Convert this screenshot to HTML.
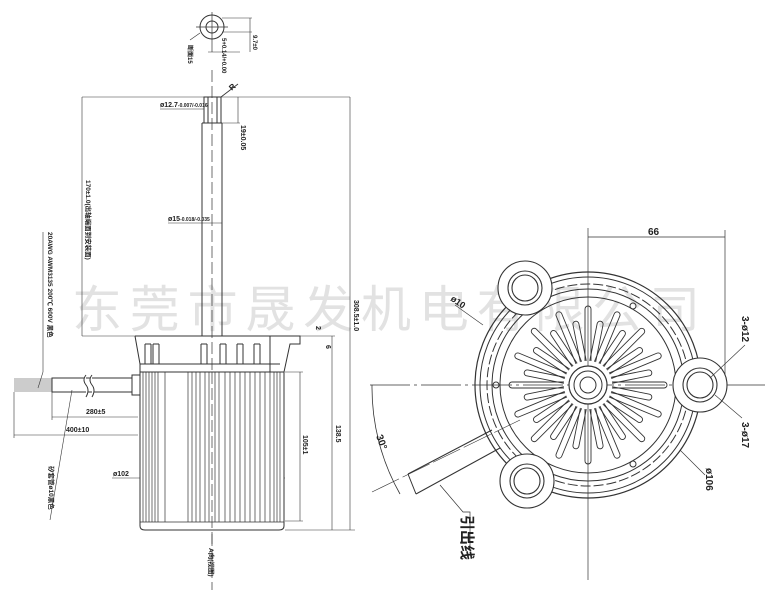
<!DOCTYPE html>
<html><head><meta charset="utf-8"><style>
html,body{margin:0;padding:0;background:#fff;width:777px;height:596px;overflow:hidden}
svg{display:block}
text{font-family:"Liberation Sans","Noto Sans CJK SC",sans-serif;fill:#222}
</style></head><body>
<svg id="s" width="777" height="596" viewBox="0 0 777 596" stroke="#333" fill="none" stroke-width="1">
<!-- watermark -->
<text x="72" y="327" font-size="50" stroke="none" style="fill:#e2e2e2" textLength="628">东莞市晟发机电有限公司</text>
<!-- top small circle detail -->
<circle cx="212" cy="27" r="12"/><circle cx="212" cy="27" r="6"/>
<line x1="196" y1="27" x2="228" y2="27" stroke-width="0.7"/>
<line x1="212" y1="12" x2="212" y2="52" stroke-width="0.7"/>
<line x1="222" y1="18" x2="252" y2="18" stroke-width="0.6"/><line x1="222" y1="32" x2="252" y2="32" stroke-width="0.6"/>
<line x1="250" y1="18" x2="250" y2="52" stroke-width="0.6"/>
<line x1="208" y1="52" x2="240" y2="52" stroke-width="0.6"/>
<line x1="200" y1="33" x2="190" y2="40" stroke-width="0.6"/>
<g stroke="none" font-size="6" font-weight="bold">
<text transform="translate(188,45) rotate(90)">断面15</text>
<text transform="translate(222,38) rotate(90)">5+0.14/+0.00</text>
<text transform="translate(253,35) rotate(90)">9.7±0</text>
</g>
<!-- centerline left -->
<line x1="212" y1="70" x2="212" y2="590" stroke-dasharray="12,4" stroke-width="0.7"/>
<!-- shaft -->
<rect x="204" y="97" width="17" height="26"/>
<line x1="208" y1="97" x2="208" y2="123"/><line x1="217" y1="97" x2="217" y2="123"/>
<line x1="202" y1="123" x2="202" y2="336"/><line x1="222" y1="123" x2="222" y2="336"/>
<line x1="202" y1="123" x2="222" y2="123"/>
<line x1="168" y1="223" x2="222" y2="223" stroke-width="0.6"/>
<line x1="160" y1="109" x2="204" y2="109" stroke-width="0.6"/>
<line x1="221" y1="97" x2="238" y2="84" stroke-width="0.8"/>
<text x="230" y="90" font-size="8" stroke="none" font-weight="bold" transform="rotate(-40 232 88)">R</text>
<!-- dims -->
<line x1="82" y1="97" x2="350" y2="97" stroke-width="0.6"/>
<line x1="82" y1="97" x2="82" y2="336" stroke-width="0.6"/>
<line x1="82" y1="336" x2="135" y2="336" stroke-width="0.6"/>
<line x1="350" y1="97" x2="350" y2="530" stroke-width="0.6"/>
<line x1="238" y1="97" x2="238" y2="123" stroke-width="0.6"/>
<line x1="222" y1="123" x2="240" y2="123" stroke-width="0.6"/>
<g stroke="none" font-size="7" font-weight="bold">
<text x="160" y="107">ø12.7<tspan font-size="5">-0.007/-0.016</tspan></text>
<text x="168" y="221">ø15<tspan font-size="5">-0.018/-0.035</tspan></text>
<text transform="translate(241,125) rotate(90)">19±0.05</text>
<text transform="translate(86,180) rotate(90)" font-size="6.5">170±1.0(出轴端面到安装面)</text>
<text transform="translate(354,300) rotate(90)">308.5±1.0</text>
<text transform="translate(336,425) rotate(90)">138.5</text>
<text transform="translate(303,435) rotate(90)">105±1</text>
<text x="86" y="414">280±5</text>
<text x="66" y="432">400±10</text>
<text x="113" y="476">ø102</text>
<text transform="translate(48,232) rotate(90)" font-size="6.5">20AWG AWM3135 200℃ 600V 黑色</text>
<text transform="translate(49,466) rotate(90)" font-size="6.5">矽套管ø10黑色</text>
<text transform="translate(209,548) rotate(90)" font-size="6.5">A向(视图)</text>
<text transform="translate(316,326) rotate(90)" font-size="7">2</text>
<text transform="translate(326,345) rotate(90)" font-size="7">6</text>
</g>
<line x1="43" y1="232" x2="43" y2="372" stroke-width="0.6"/>
<line x1="43" y1="372" x2="38" y2="388" stroke-width="0.6"/>
<line x1="72" y1="390" x2="50" y2="520" stroke-width="0.6"/>
<line x1="52" y1="392" x2="52" y2="420" stroke-width="0.6"/>
<line x1="14" y1="392" x2="14" y2="438" stroke-width="0.6"/>
<line x1="52" y1="417" x2="138" y2="417" stroke-width="0.6"/>
<line x1="14" y1="435" x2="138" y2="435" stroke-width="0.6"/>
<line x1="112" y1="478" x2="285" y2="478" stroke-width="0.6"/>
<line x1="285" y1="372" x2="303" y2="372" stroke-width="0.6"/>
<line x1="285" y1="521" x2="303" y2="521" stroke-width="0.6"/>
<line x1="300" y1="372" x2="300" y2="521" stroke-width="0.6"/>
<line x1="300" y1="336" x2="335" y2="336" stroke-width="0.6"/>
<line x1="285" y1="530" x2="355" y2="530" stroke-width="0.6"/>
<line x1="332" y1="336" x2="332" y2="530" stroke-width="0.6"/>
<!-- housing -->
<path d="M135 336 H300 V344 H290 L284 372 M135 336 L140 364 H280"/>
<line x1="270" y1="336" x2="270" y2="372"/>
<line x1="140" y1="364" x2="140" y2="372"/>
<g id="hs"></g>
<!-- body -->
<path d="M140 372 H284 V526 Q284 530 279 530 H145 Q140 530 140 526 Z" fill="#fff"/>
<line x1="212" y1="372" x2="212" y2="545" stroke-dasharray="12,4" stroke-width="0.7"/>
<g id="bl" stroke-width="0.7"></g>
<!-- cable -->
<rect x="52" y="378" width="80" height="14"/>
<rect x="132" y="375" width="8" height="20"/>
<path d="M86 375 q-4 5 0 10 q4 5 0 12 M92 375 q-4 5 0 10 q4 5 0 12" stroke="#333" fill="#fff"/>
<g id="wr" stroke-width="0.6"></g>
<!-- RIGHT VIEW -->
<line x1="370" y1="385" x2="765" y2="385" stroke-dasharray="40,4,3,4" stroke-width="0.7"/>
<line x1="588" y1="228" x2="588" y2="580" stroke-width="0.7"/>
<line x1="725" y1="230" x2="725" y2="385" stroke-width="0.7"/>
<line x1="588" y1="237" x2="725" y2="237" stroke-width="0.8"/>
<text x="648" y="235" font-size="10" stroke="none" font-weight="bold">66</text>
<path d="M372 385 A216 216 0 0 0 400 494" stroke-width="0.8"/>
<line x1="372" y1="492" x2="520" y2="420" stroke-width="0.6" stroke-dasharray="30,4"/>
<text transform="translate(376,436) rotate(70)" font-size="10" stroke="none" font-weight="bold">30°</text>
<!-- cable right -->
<path d="M492 430 L408 474 M500 448 L416 494 M408 474 L416 494" stroke-width="1"/>
<path d="M440 485 L463 512 H470 V550" stroke-width="0.7"/>
<text transform="translate(462,515) rotate(90)" font-size="15" stroke="none" font-weight="bold">引出线</text>
<!-- main ring -->
<circle cx="588" cy="385" r="113" stroke-width="1.2"/>
<circle cx="588" cy="385" r="108"/>
<circle cx="588" cy="385" r="101" stroke-dasharray="10,3"/>
<circle cx="588" cy="385" r="96"/>
<circle cx="588" cy="385" r="88"/>
<!-- lugs -->
<g fill="#fff" stroke-width="1.1">
<circle cx="700" cy="385" r="27"/><circle cx="700" cy="385" r="17"/><circle cx="700" cy="385" r="13"/>
<circle cx="525" cy="288" r="27"/><circle cx="525" cy="288" r="17"/><circle cx="525" cy="288" r="13"/>
<circle cx="527" cy="481" r="27"/><circle cx="527" cy="481" r="17"/><circle cx="527" cy="481" r="13"/>
</g>
<circle cx="496" cy="385" r="3"/><circle cx="633" cy="306" r="3"/><circle cx="633" cy="464" r="3"/>
<g id="fn"></g>
<circle cx="588" cy="385" r="19" fill="#fff" stroke-width="1.2"/>
<circle cx="588" cy="385" r="14"/>
<circle cx="588" cy="385" r="8"/>
<!-- callouts -->
<line x1="483" y1="325" x2="455" y2="305" stroke-width="0.6"/>
<text transform="translate(450,300) rotate(35)" font-size="9" stroke="none" font-weight="bold">ø10</text>
<line x1="710" y1="378" x2="745" y2="345" stroke-width="0.6"/>
<text transform="translate(742,316) rotate(90)" font-size="10" stroke="none" font-weight="bold">3-ø12</text>
<line x1="715" y1="395" x2="742" y2="418" stroke-width="0.6"/>
<text transform="translate(742,422) rotate(90)" font-size="10" stroke="none" font-weight="bold">3-ø17</text>
<line x1="680" y1="450" x2="705" y2="475" stroke-width="0.6"/>
<text transform="translate(706,468) rotate(90)" font-size="10" stroke="none" font-weight="bold">ø106</text>
</svg>
<script>
var NS="http://www.w3.org/2000/svg";
function L(g,x1,y1,x2,y2,sw){var e=document.createElementNS(NS,"line");e.setAttribute("x1",x1);e.setAttribute("y1",y1);e.setAttribute("x2",x2);e.setAttribute("y2",y2);if(sw)e.setAttribute("stroke-width",sw);document.getElementById(g).appendChild(e);}
var xs=[143,146,149,152,155,158,165,188,192,196,200,205,209,215,219,225,230,235,240,245,250,255,260,265,270,274,277,280];
xs.forEach(function(x){L("bl",x,372,x,522);});
L("bl",140,522,284,522);
[[145,151],[153,159],[201,207],[220,226],[237,243],[254,260]].forEach(function(p){L("hs",p[0],344,p[0],364);L("hs",p[1],344,p[1],364);L("hs",p[0],344,p[1],344);});
for(var y=379;y<392;y+=2)L("wr",14,y,52,y);
var g=document.getElementById("fn");
for(var i=0;i<32;i++){var a=i/32*2*Math.PI;var r1=24,r2=(i%2?62:76);
var c=Math.cos(a),s=Math.sin(a),px=-s*3,py=c*3;
var x1=588+c*r1,y1=385+s*r1,x2=588+c*r2,y2=385+s*r2;
var p=document.createElementNS(NS,"path");
p.setAttribute("d","M"+(x1+px)+" "+(y1+py)+" L"+(x2+px)+" "+(y2+py)+" A3 3 0 0 0 "+(x2-px)+" "+(y2-py)+" L"+(x1-px)+" "+(y1-py));
p.setAttribute("stroke-width","0.9");g.appendChild(p);}
</script>
</body></html>
